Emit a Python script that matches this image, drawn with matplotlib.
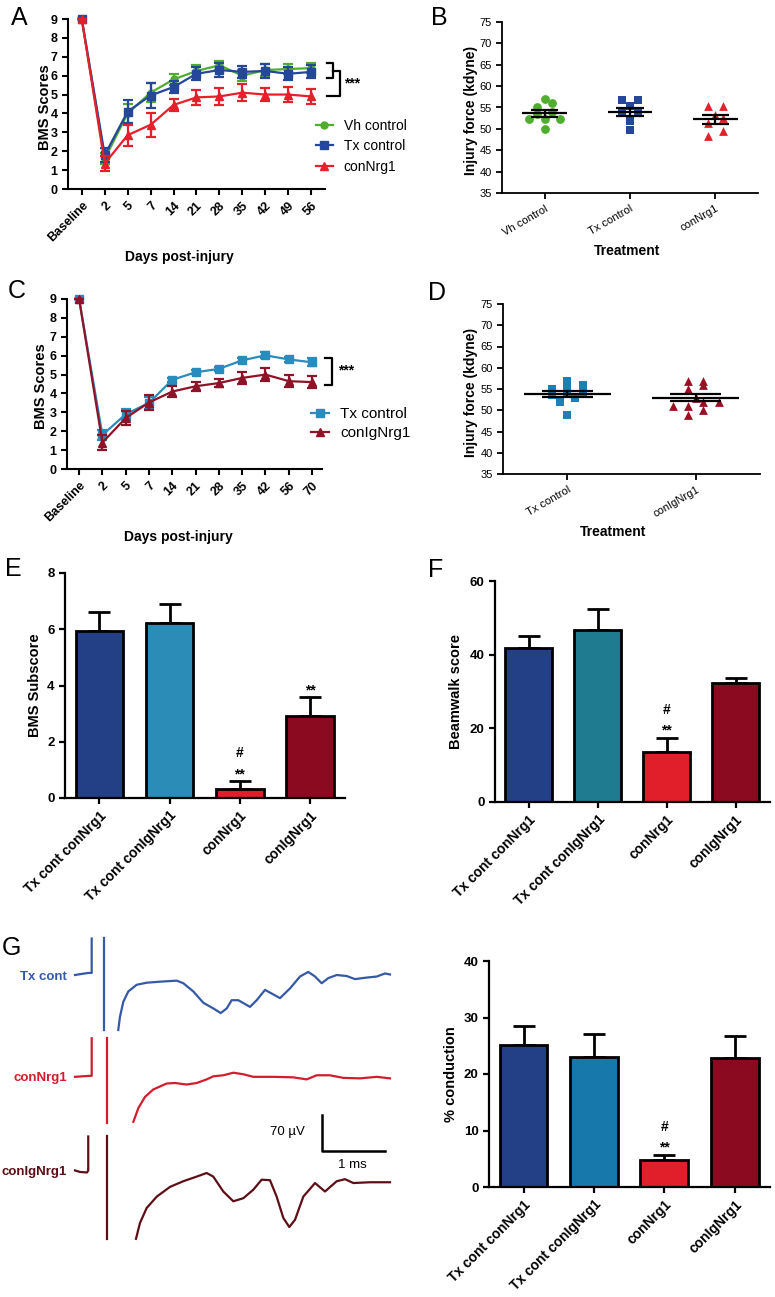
import numpy as np
import matplotlib
matplotlib.use("Agg")
import matplotlib.pyplot as plt

plt.rcParams['font.family'] = ['Liberation Sans', 'DejaVu Sans']

# ---------------- data ----------------
days_A = ['Baseline', '2', '5', '7', '14', '21', '28', '35', '42', '49', '56']
vh_A = [9, 1.6, 4.0, 5.1, 5.8, 6.25, 6.55, 6.0, 6.3, 6.35, 6.4]
vh_A_err = [0, 0.3, 0.5, 0.5, 0.3, 0.3, 0.25, 0.3, 0.3, 0.25, 0.25]
tx_A = [9, 1.8, 4.1, 4.95, 5.4, 6.1, 6.3, 6.2, 6.25, 6.1, 6.2]
tx_A_err = [0, 0.35, 0.6, 0.65, 0.3, 0.35, 0.35, 0.3, 0.35, 0.35, 0.35]
con_A = [9, 1.35, 2.85, 3.4, 4.45, 4.85, 4.9, 5.1, 5.0, 5.0, 4.9]
con_A_err = [0, 0.4, 0.55, 0.65, 0.3, 0.4, 0.45, 0.45, 0.35, 0.4, 0.4]

groups_B = ['Vh control', 'Tx control', 'conNrg1']
vh_B = [57.0, 56.0, 55.0, 54.0, 53.5, 52.3, 52.3, 52.3, 50.0]
tx_B = [56.8, 56.8, 55.4, 53.7, 53.7, 51.8, 49.7]
con_B = [55.3, 55.3, 53.3, 52.5, 51.4, 49.4, 48.4]

days_C = ['Baseline', '2', '5', '7', '14', '21', '28', '35', '42', '56', '70']
tx_C = [9, 1.8, 2.9, 3.5, 4.72, 5.12, 5.3, 5.75, 6.02, 5.8, 5.65]
tx_C_err = [0, 0.25, 0.3, 0.3, 0.1, 0.1, 0.1, 0.1, 0.15, 0.15, 0.2]
ig_C = [9, 1.4, 2.7, 3.52, 4.1, 4.38, 4.55, 4.82, 5.0, 4.65, 4.6]
ig_C_err = [0, 0.4, 0.35, 0.4, 0.3, 0.25, 0.2, 0.3, 0.35, 0.3, 0.3]

groups_D = ['Tx control', 'conIgNrg1']
tx_D = [56.0, 57.0, 55.0, 55.0, 54.2, 54.2, 53.5, 53.0, 52.0, 49.0]
ig_D = [57, 57, 55, 56, 51, 52, 52, 53, 51, 49, 50]

bar_groups = ['Tx cont conNrg1', 'Tx cont conIgNrg1', 'conNrg1', 'conIgNrg1']
bms_sub = [5.95, 6.24, 0.32, 2.93]
bms_sub_err = [0.65, 0.67, 0.28, 0.65]
beamwalk = [41.8, 46.6, 13.7, 32.3]
beamwalk_err = [3.2, 5.7, 3.7, 1.5]
conduction = [25.1, 23.0, 4.7, 22.9]
conduction_err = [3.4, 4.0, 1.0, 3.8]
marks_hash = ['', '', '#', '']
marks_E = ['', '', '**', '**']
marks_F = ['', '', '**', '']
marks_G = ['', '', '**', '']

# evoked potential traces (time in ms, voltage in uV)
tx_pre_t = [0, 0.1, 0.21, 0.265, 0.265]
tx_pre_v = [0, 2, 4, 4, 71]
tx_art_t = [0.465, 0.465]
tx_art_v = [71, -107]
tx_post_t = [0.687, 0.714, 0.767, 0.846, 0.979, 1.138, 1.349, 1.614, 1.719, 1.878,
             2.037, 2.195, 2.313, 2.408, 2.487, 2.592, 2.778, 2.884, 3.016, 3.122,
             3.254, 3.413, 3.571, 3.703, 3.810, 3.916, 4.021, 4.154, 4.313, 4.444,
             4.630, 4.789, 4.921, 5.0]
tx_post_v = [-107, -81, -52, -32, -19, -15, -13, -11, -16, -32,
             -54, -65, -74, -65, -49, -49, -62, -49, -29, -36,
             -45, -26, -3, 6, -3, -16, -6, 0, -2, -8,
             -5, -3, 3, 1]

cn_pre_t = [0, 0.12, 0.24, 0.265, 0.265]
cn_pre_v = [0, 1, 2, 2, 75]
cn_art_t = [0.503, 0.503]
cn_art_v = [75, -89]
cn_post_t = [0.926, 1.005, 1.111, 1.243, 1.455, 1.587, 1.773, 1.931, 2.09, 2.195,
             2.354, 2.513, 2.672, 2.83, 3.148, 3.466, 3.677, 3.836, 4.048, 4.259,
             4.524, 4.789, 5.0]
cn_post_v = [-87.5, -61, -39, -24.5, -13, -12, -15, -12, -5, 1,
             3, 8, 5, 0, 0, -1, -5, 3, 3, -2,
             -3, 0, -3]

ig_pre_t = [0, 0.08, 0.19, 0.21, 0.21]
ig_pre_v = [0, -3, -4, 0, 66]
ig_art_t = [0.503, 0.503]
ig_art_v = [66, -133]
ig_post_t = [0.968, 1.032, 1.138, 1.297, 1.508, 1.719, 1.931, 2.09, 2.195, 2.354,
             2.513, 2.672, 2.83, 2.963, 3.095, 3.201, 3.307, 3.402, 3.492, 3.624,
             3.81, 3.968, 4.154, 4.286, 4.418, 4.683, 5.0]
ig_post_v = [-133, -102, -73, -51, -32, -21, -12, -5, -12, -41,
             -60, -54, -37.5, -18, -19, -51, -92.5, -110, -96, -51,
             -24.5, -41, -21, -17, -24.5, -23, -23]

scale_uV = 70
scale_ms = 1

# ---------------- styling ----------------
GREEN = '#4fae2e'
NAVY = '#25479a'
RED = '#e5202b'
STEEL = '#2a8bbd'
DARKRED = '#8e1228'
BAR_E = ['#233f85', '#2b8cb8', '#e11f2a', '#8c0a1f']
BAR_F = ['#233f85', '#1f7b8f', '#e11f2a', '#8c0a1f']
BAR_G = ['#233f85', '#1779ab', '#e11f2a', '#8c0a1f']
TR_TX = '#3459a6'
TR_CN = '#d21d2d'
TR_IG = '#5c0f17'

W, H = 775, 1297
fig = plt.figure(figsize=(W / 100, H / 100), dpi=100)


def axes_px(l, t, r, b):
    return fig.add_axes([l / W, 1 - b / H, (r - l) / W, (b - t) / H])


def prism(ax, lw=1.5):
    for s in ['top', 'right']:
        ax.spines[s].set_visible(False)
    for s in ['left', 'bottom']:
        ax.spines[s].set_linewidth(lw)
    ax.tick_params(direction='out', length=4, width=lw, colors='black')


def swarm(vals, tol, step):
    vals = np.asarray(vals, float)
    order = np.argsort(vals)
    offs = np.zeros(len(vals))
    rows = []
    for i in order:
        if rows and vals[i] - vals[rows[-1][0]] < tol:
            rows[-1].append(i)
        else:
            rows.append([i])
    for r in rows:
        n = len(r)
        for k, i in enumerate(r):
            offs[i] = (k - (n - 1) / 2) * step
    return offs


def letter(x, y, s):
    fig.text(x / W, 1 - y / H, s, fontsize=18, ha='left', va='top')


# ---------------- Panel A ----------------
axA = axes_px(68, 19, 325, 189)
xA = np.arange(len(days_A))
for vals, err, col, mk, ms, lab in [(vh_A, vh_A_err, GREEN, 'o', 5, 'Vh control'),
                                    (tx_A, tx_A_err, NAVY, 's', 5.5, 'Tx control'),
                                    (con_A, con_A_err, RED, '^', 5.5, 'conNrg1')]:
    axA.errorbar(xA, vals, yerr=err, fmt='none', ecolor=col, elinewidth=1.6,
                 capsize=3.5, capthick=1.6, clip_on=False)
    axA.plot(xA, vals, color=col, marker=mk, ms=ms, lw=1.6, label=lab, clip_on=False)
prism(axA)
axA.set_xlim(-0.6, 10.6)
axA.set_ylim(0, 9)
axA.set_yticks(range(10))
axA.set_xticks(xA)
axA.set_xticklabels(days_A, rotation=45, ha='right', rotation_mode='anchor',
                    fontweight='bold', fontsize=9)
for t in axA.get_yticklabels():
    t.set_fontweight('bold'); t.set_fontsize(9)
axA.set_ylabel('BMS Scores', fontweight='bold', fontsize=10.5)
axA.yaxis.set_label_coords(-0.062, 0.48)
axA.set_xlabel('Days post-injury', fontweight='bold', fontsize=10)
axA.xaxis.set_label_coords(0.435, -0.36)
axA.legend(loc='upper left', bbox_to_anchor=(316 / W, 1 - 119 / H),
           bbox_transform=fig.transFigure, frameon=False, fontsize=10,
           handlelength=1.2, handletextpad=0.8, labelspacing=0.45,
           borderpad=0, borderaxespad=0)
# significance brackets
top_s = vh_A[-1] + vh_A_err[-1]
bot_s = tx_A[-1] - tx_A_err[-1]
mid_s = (top_s + bot_s) / 2
bot_l = con_A[-1]
axA.plot([10.67, 10.96, 10.96, 10.67], [top_s, top_s, bot_s, bot_s], color='black', lw=1.6, clip_on=False)
axA.plot([10.96, 11.25, 11.25, 10.67], [mid_s, mid_s, bot_l, bot_l], color='black', lw=1.6, clip_on=False)
axA.text(11.45, (mid_s + bot_l) / 2, '***', fontsize=10, fontweight='bold', va='center', ha='left')

# ---------------- Panel B ----------------
axB = axes_px(502, 22, 758, 193)
for i, (vals, col, mk) in enumerate([(vh_B, GREEN, 'o'), (tx_B, NAVY, 's'), (con_B, RED, '^')]):
    offs = swarm(vals, 1.2, 0.18)
    axB.scatter(i + offs, vals, marker=mk, color=col, s=40, zorder=2, linewidths=0)
    m = np.mean(vals)
    se = np.std(vals, ddof=1) / np.sqrt(len(vals))
    axB.hlines(m, i - 0.26, i + 0.26, color='black', lw=1.6, zorder=3)
    axB.hlines([m - se, m + se], i - 0.16, i + 0.16, color='black', lw=1.6, zorder=3)
    axB.vlines(i, m - se, m + se, color='black', lw=1.6, zorder=3)
prism(axB, 1.3)
axB.set_xlim(-0.5, 2.5)
axB.set_ylim(35, 75)
axB.set_yticks(range(35, 76, 5))
axB.set_xticks(range(3))
axB.set_xticklabels(groups_B, rotation=30, ha='right', rotation_mode='anchor', fontsize=8)
for t in axB.get_yticklabels():
    t.set_fontsize(8)
axB.set_ylabel('Injury force (kdyne)', fontweight='bold', fontsize=10)
axB.yaxis.set_label_coords(-0.094, 0.48)
axB.set_xlabel('Treatment', fontweight='bold', fontsize=10)
axB.xaxis.set_label_coords(0.488, -0.30)

# ---------------- Panel C ----------------
axC = axes_px(67, 299, 322, 469)
xC = np.arange(len(days_C))
for vals, err, col, mk, ms, lab in [(tx_C, tx_C_err, STEEL, 's', 5.5, 'Tx control'),
                                    (ig_C, ig_C_err, DARKRED, '^', 5.5, 'conIgNrg1')]:
    axC.errorbar(xC, vals, yerr=err, fmt='none', ecolor=col, elinewidth=1.6,
                 capsize=3.5, capthick=1.6, clip_on=False)
    axC.plot(xC, vals, color=col, marker=mk, ms=ms, lw=1.6, label=lab, clip_on=False)
prism(axC)
axC.set_xlim(-0.52, 10.43)
axC.set_ylim(0, 9)
axC.set_yticks(range(10))
axC.set_xticks(xC)
axC.set_xticklabels(days_C, rotation=45, ha='right', rotation_mode='anchor',
                    fontweight='bold', fontsize=9)
for t in axC.get_yticklabels():
    t.set_fontweight('bold'); t.set_fontsize(9)
axC.set_ylabel('BMS Scores', fontweight='bold', fontsize=10.5)
axC.yaxis.set_label_coords(-0.075, 0.49)
axC.set_xlabel('Days post-injury', fontweight='bold', fontsize=10)
axC.xaxis.set_label_coords(0.435, -0.36)
axC.legend(loc='upper left', bbox_to_anchor=(311 / W, 1 - 407 / H),
           bbox_transform=fig.transFigure, frameon=False, fontsize=11,
           handlelength=1.2, handletextpad=0.7, labelspacing=0.35,
           borderpad=0, borderaxespad=0)
c_top = tx_C[-1] + tx_C_err[-1]
c_bot = ig_C[-1] - ig_C_err[-1] / 2
axC.plot([10.57, 10.86, 10.86, 10.57], [c_top, c_top, c_bot, c_bot], color='black', lw=1.6, clip_on=False)
axC.text(11.1, (c_top + c_bot) / 2 + 0.05, '***', fontsize=10, fontweight='bold', va='center', ha='left')

# ---------------- Panel D ----------------
axD = axes_px(503, 304, 760, 474)
for i, (vals, col, mk) in enumerate([(tx_D, '#1f7fb4', 's'), (ig_D, '#9a0f24', '^')]):
    offs = swarm(vals, 1.2, 0.12)
    axD.scatter(i + offs, vals, marker=mk, color=col, s=40, zorder=2, linewidths=0)
    m = np.mean(vals)
    se = np.std(vals, ddof=1) / np.sqrt(len(vals))
    axD.hlines(m, i - 0.34, i + 0.34, color='black', lw=1.6, zorder=3)
    axD.hlines([m - se, m + se], i - 0.2, i + 0.2, color='black', lw=1.6, zorder=3)
    axD.vlines(i, m - se, m + se, color='black', lw=1.6, zorder=3)
prism(axD, 1.3)
axD.set_xlim(-0.5, 1.5)
axD.set_ylim(35, 75)
axD.set_yticks(range(35, 76, 5))
axD.set_xticks(range(2))
axD.set_xticklabels(groups_D, rotation=30, ha='right', rotation_mode='anchor', fontsize=8)
for t in axD.get_yticklabels():
    t.set_fontsize(8)
axD.set_ylabel('Injury force (kdyne)', fontweight='bold', fontsize=10)
axD.yaxis.set_label_coords(-0.097, 0.48)
axD.set_xlabel('Treatment', fontweight='bold', fontsize=10)
axD.xaxis.set_label_coords(0.43, -0.30)


# ---------------- Bar panels ----------------
def bar_panel(box, vals, errs, colors, ylim, yticks, ylabel, lab_x, stars):
    ax = axes_px(*box)
    x = np.arange(len(vals))
    ax.bar(x, vals, width=0.68, color=colors, edgecolor='black', linewidth=2, zorder=2)
    ax.errorbar(x, vals, yerr=[np.zeros(len(vals)), errs], fmt='none', ecolor='black',
                elinewidth=2, capsize=8, capthick=2, zorder=1)
    prism(ax, 1.6)
    ax.set_xlim(-0.49, 3.5)
    ax.set_ylim(*ylim)
    ax.set_yticks(yticks)
    ax.set_xticks(x)
    ax.set_xticklabels(bar_groups, rotation=45, ha='right', rotation_mode='anchor',
                       fontweight='bold', fontsize=10)
    for t in ax.get_yticklabels():
        t.set_fontweight('bold'); t.set_fontsize(9.5)
    ax.set_ylabel(ylabel, fontweight='bold', fontsize=10.5)
    ax.yaxis.set_label_coords(lab_x, 0.5)
    for i in range(len(vals)):
        top = vals[i] + errs[i]
        if stars[i]:
            ax.annotate(stars[i], (i, top), xytext=(0, 5), textcoords='offset points',
                        ha='center', va='center', fontsize=10, fontweight='bold')
        if marks_hash[i]:
            ax.annotate(marks_hash[i], (i, top), xytext=(0, 20), textcoords='offset points',
                        ha='center', va='center', fontsize=10, fontweight='bold')
    return ax


bar_panel((65, 573, 345, 798), bms_sub, bms_sub_err, BAR_E, (0, 8), [0, 2, 4, 6, 8],
          'BMS Subscore', -0.082, marks_E)
bar_panel((495, 581, 770, 802), beamwalk, beamwalk_err, BAR_F, (0, 60), [0, 20, 40, 60],
          'Beamwalk score', -0.116, marks_F)
bar_panel((489, 961, 770, 1187), conduction, conduction_err, BAR_G, (0, 40), [0, 10, 20, 30, 40],
          '% conduction', -0.11, marks_G)

# ---------------- Panel G traces ----------------
MS_PX = 63.0          # pixels per ms
UV_PX = 36.0 / 70.0   # pixels per uV
T0, V0 = 75, 975      # pixel position of time 0 / Tx baseline
axT = axes_px(0, 925, 400, 1250)
axT.set_xlim((0 - T0) / MS_PX, (400 - T0) / MS_PX)
axT.set_ylim(-(1250 - V0) / UV_PX, -(925 - V0) / UV_PX)
axT.axis('off')
for off, col, parts, lab in [
        (0, TR_TX, [(tx_pre_t, tx_pre_v), (tx_art_t, tx_art_v), (tx_post_t, tx_post_v)], 'Tx cont'),
        (-198, TR_CN, [(cn_pre_t, cn_pre_v), (cn_art_t, cn_art_v), (cn_post_t, cn_post_v)], 'conNrg1'),
        (-380, TR_IG, [(ig_pre_t, ig_pre_v), (ig_art_t, ig_art_v), (ig_post_t, ig_post_v)], 'conIgNrg1')]:
    for tt, vv in parts:
        axT.plot(tt, np.asarray(vv) + off, color=col, lw=1.6, solid_joinstyle='round')
    axT.text(-0.13, off - 3, lab, color=col, fontsize=9.5, fontweight='bold', ha='right', va='center')
sb_t, sb_v = 3.92, -342
axT.plot([sb_t, sb_t, sb_t + scale_ms], [sb_v + scale_uV, sb_v, sb_v], color='black', lw=1.8)
axT.text(sb_t - 0.27, sb_v + scale_uV / 2 + 1, f'{scale_uV} µV', fontsize=9.5, ha='right', va='center')
axT.text(sb_t + scale_ms / 2 - 0.02, sb_v - 27, f'{scale_ms} ms', fontsize=9.5, ha='center', va='center')

# ---------------- panel letters ----------------
letter(11, 6, 'A')
letter(431, 6, 'B')
letter(8, 279, 'C')
letter(428, 281, 'D')
letter(5, 557, 'E')
letter(428, 558, 'F')
letter(2, 936, 'G')

fig.savefig('out.png', dpi=100)
